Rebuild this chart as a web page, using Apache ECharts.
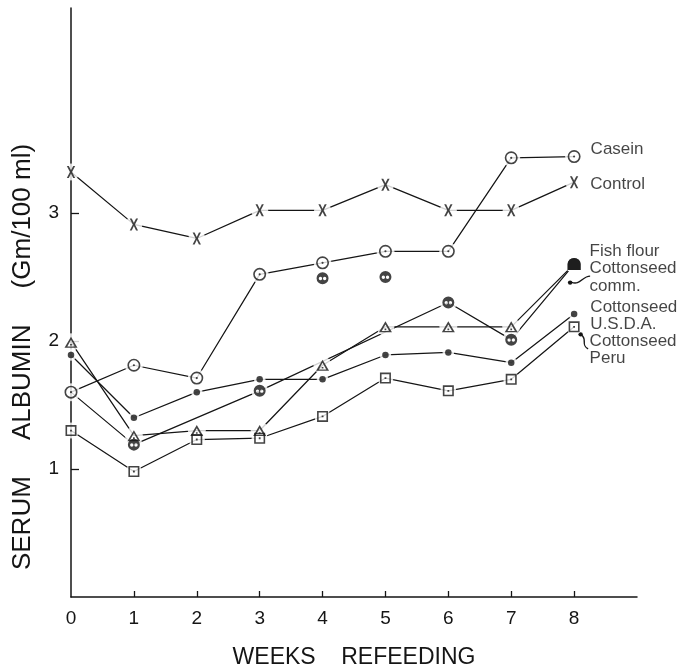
<!DOCTYPE html>
<html>
<head>
<meta charset="utf-8">
<script src="https://cdn.jsdelivr.net/npm/echarts@6/dist/echarts.min.js"></script>
<style>
  html, body { margin: 0; padding: 0; background: #fff; }
  #chart { width: 684px; height: 671px; }
</style>
</head>
<body>
<div id="chart"></div>
<script>
// Serum albumin during refeeding, by diet
const weeks = [0, 1, 2, 3, 4, 5, 6, 7, 8];
const xTickLabels = [0, 1, 2, 3, 4, 5, 6, 7, 8];
const yTickLabels = [1, 2, 3];

const control          = [3.32, 2.91, 2.80, 3.02, 3.02, 3.22, 3.02, 3.02, 3.24];
const casein           = [1.60, 1.81, 1.71, 2.52, 2.61, 2.70, 2.70, 3.43, 3.44];
const fishFlour        = [1.60, 1.19, null, 1.61, null, null, 2.30, 2.01, 2.60];
const fishFlourSingles = [null, null, null, null, 2.49, 2.50, null, null, null];
const cottonseedComm   = [1.99, 1.26, 1.30, 1.30, 1.81, 2.11, 2.11, 2.11, 2.60];
const cottonseedUSDA   = [1.89, 1.40, 1.60, 1.70, 1.70, 1.89, 1.91, 1.83, 2.21];
const cottonseedPeru   = [1.30, 0.98, 1.23, 1.24, 1.41, 1.71, 1.61, 1.70, 2.11];

const INK = '#151515';
const FONT = '"Liberation Sans", Arial, sans-serif';

// Plotting symbols
const SYM = {
  cross: 'path://M0,0L2.4,0L5,4.4L7.6,0L10,0L6.3,6L10,12L7.6,12L5,7.6L2.4,12L0,12L3.7,6Z',
  ringDot: 'path://M0 6A6 6 0 1 1 12 6A6 6 0 1 1 0 6ZM1.5 6A4.5 4.5 0 1 0 10.5 6A4.5 4.5 0 1 0 1.5 6ZM5 6A1 1 0 1 1 7 6A1 1 0 1 1 5 6Z',
  eight: 'path://M0 6A6 6 0 1 1 12 6A6 6 0 1 1 0 6ZM2.2 6.3A1.7 1.7 0 1 0 5.6 6.3A1.7 1.7 0 1 0 2.2 6.3ZM6.4 6.3A1.7 1.7 0 1 0 9.8 6.3A1.7 1.7 0 1 0 6.4 6.3Z',
  triDot: 'path://M6 0L12 11L0 11ZM6 3.1L2.6 9.7L9.4 9.7ZM5.2 7.2L6.8 7.2L6.8 8.8L5.2 8.8Z',
  boxDot: 'path://M0 0L11 0L11 11L0 11ZM1.6 1.6L1.6 9.4L9.4 9.4L9.4 1.6ZM4.6 4.6L6.4 4.6L6.4 6.4L4.6 6.4Z',
  dome: 'path://M0 12L0 6A6 6 0 0 1 12 6L12 12Z'
};

const groups = [
  { name: 'Control', values: control, symbol: SYM.cross, size: [10, 12],
    label: 'Control', labelDy: 2, labelDist: 12 },
  { name: 'Casein', values: casein, symbol: SYM.ringDot, size: 13,
    label: 'Casein', labelDy: -7, labelDist: 10 },
  { name: 'Fish flour', values: fishFlour, symbol: SYM.eight, size: 12,
    skip: [0], endSymbol: SYM.dome, endSize: [13, 12],
    label: 'Fish flour', labelDy: -13, labelDist: 9 },
  { name: 'Cottonseed comm.', values: cottonseedComm, symbol: SYM.triDot, size: [13, 12],
    endSymbol: SYM.dome, endSize: [13, 12],
    label: 'Cottonseed\ncomm.', labelDy: 13, labelDist: 9 },
  { name: 'Cottonseed U.S.D.A.', values: cottonseedUSDA, symbol: 'circle', size: 6.5,
    label: 'Cottonseed\nU.S.D.A.', labelDy: 2, labelDist: 13 },
  { name: 'Cottonseed Peru', values: cottonseedPeru, symbol: SYM.boxDot, size: 11,
    label: 'Cottonseed\nPeru', labelDy: 23, labelDist: 10 }
];

function pairs(values) {
  const out = [];
  weeks.forEach((w, i) => { if (values[i] != null) out.push([w, values[i]]); });
  return out;
}

const series = [];
groups.forEach(g => {
  series.push({
    type: 'line', name: g.name, data: pairs(g.values),
    showSymbol: false, symbol: 'none', silent: true, z: 1,
    lineStyle: { color: INK, width: 1.25 }
  });
  const pts = [];
  const last = g.values.length - 1;
  weeks.forEach((w, i) => {
    const v = g.values[i];
    if (v == null || (g.skip && g.skip.includes(i))) return;
    const item = { value: [w, v] };
    if (i === last && g.endSymbol) { item.symbol = g.endSymbol; item.symbolSize = g.endSize; }
    if (i === last) {
      item.label = {
        show: true, position: 'right', distance: g.labelDist, offset: [0, g.labelDy],
        formatter: g.label, color: INK, fontSize: 17, lineHeight: 17.5,
        fontFamily: FONT, align: 'left', verticalAlign: 'middle'
      };
    }
    pts.push(item);
  });
  g.points = pts;
});

// Unjoined fish-flour readings
const singles = pairs(fishFlourSingles).map(p => ({ value: p }));

const allMarkers = [];
groups.forEach(g => g.points.forEach(p => allMarkers.push({ g, p })));
singles.forEach(p => allMarkers.push({ g: groups[2], p }));

// White halos keep the connecting lines clear of each symbol
series.push({
  type: 'scatter', silent: true, z: 2,
  data: allMarkers.map(m => m.p.value),
  symbol: 'circle',
  symbolSize: (val, params) => {
    const m = allMarkers[params.dataIndex];
    const s = m.p.symbolSize || m.g.size;
    const d = Array.isArray(s) ? Math.max(s[0], s[1]) : s;
    return d + 5;
  },
  itemStyle: { color: '#fff' }
});

groups.forEach(g => {
  series.push({
    type: 'scatter', name: g.name + ' points', silent: true, z: 3,
    data: g.points, symbol: g.symbol, symbolSize: g.size, symbolKeepAspect: true,
    itemStyle: { color: INK }
  });
});
series.push({
  type: 'scatter', silent: true, z: 3, data: singles,
  symbol: groups[2].symbol, symbolSize: groups[2].size, itemStyle: { color: INK }
});

const chart = echarts.init(document.getElementById('chart'), null, { renderer: 'canvas' });

chart.setOption({
  animation: false,
  backgroundColor: '#fff',
  grid: { left: 71, right: 47, top: 8, bottom: 74, containLabel: false, outerBoundsMode: 'none' },
  xAxis: {
    type: 'value', min: 0, max: 9, interval: 1,
    name: 'WEEKS    REFEEDING', nameLocation: 'middle', nameGap: 49,
    nameTextStyle: { color: INK, fontSize: 23, fontFamily: FONT },
    axisLine: { show: true, lineStyle: { color: INK, width: 1.5 } },
    axisTick: { show: true, inside: true, length: 6, lineStyle: { color: INK, width: 1.3 },
                customValues: [1, 2, 3, 4, 5, 6, 7, 8] },
    axisLabel: { color: INK, fontSize: 19, fontFamily: FONT, margin: 12,
                 customValues: xTickLabels,
                 formatter: v => (v <= 8 ? String(v) : '') },
    splitLine: { show: false }
  },
  yAxis: {
    type: 'value', min: 0, max: 4.6, interval: 1,
    axisLine: { show: true, lineStyle: { color: INK, width: 1.5 } },
    axisTick: { show: true, inside: true, length: 8, lineStyle: { color: INK, width: 1.3 },
                customValues: yTickLabels },
    axisLabel: { color: INK, fontSize: 19, fontFamily: FONT, margin: 12,
                 customValues: yTickLabels,
                 formatter: v => (v >= 1 && v <= 3 ? String(v) : '') },
    splitLine: { show: false }
  },
  series: series
});

// Axis title and pointer arrows beside the week-8 labels
const px = (w, v) => chart.convertToPixel({ gridIndex: 0 }, [w, v]);
const dome = px(8, cottonseedComm[8]);
const peru = px(8, cottonseedPeru[8]);

chart.setOption({
  graphic: [
    {
      type: 'text', x: 23, y: 357, rotation: Math.PI / 2,
      style: { text: 'SERUM     ALBUMIN     (Gm/100 ml)', fill: INK, fontSize: 26,
               fontFamily: FONT, align: 'center', verticalAlign: 'middle' }
    },
    {
      type: 'bezierCurve',
      shape: { x1: dome[0] + 16, y1: dome[1] + 12, cpx1: dome[0] + 8, cpy1: dome[1] + 12,
               cpx2: dome[0] + 6, cpy2: dome[1] + 22, x2: dome[0] - 3, y2: dome[1] + 18 },
      style: { stroke: INK, lineWidth: 1.4, fill: null }
    },
    {
      type: 'circle', shape: { cx: dome[0] - 4, cy: dome[1] + 18.5, r: 2.2 },
      style: { fill: INK }
    },
    {
      type: 'bezierCurve',
      shape: { x1: peru[0] + 14, y1: peru[1] + 22, cpx1: peru[0] + 6, cpy1: peru[1] + 18,
               cpx2: peru[0] + 14, cpy2: peru[1] + 12, x2: peru[0] + 7, y2: peru[1] + 8 },
      style: { stroke: INK, lineWidth: 1.4, fill: null }
    },
    {
      type: 'circle', shape: { cx: peru[0] + 6.5, cy: peru[1] + 7.5, r: 2.2 },
      style: { fill: INK }
    }
  ]
});
</script>
</body>
</html>
